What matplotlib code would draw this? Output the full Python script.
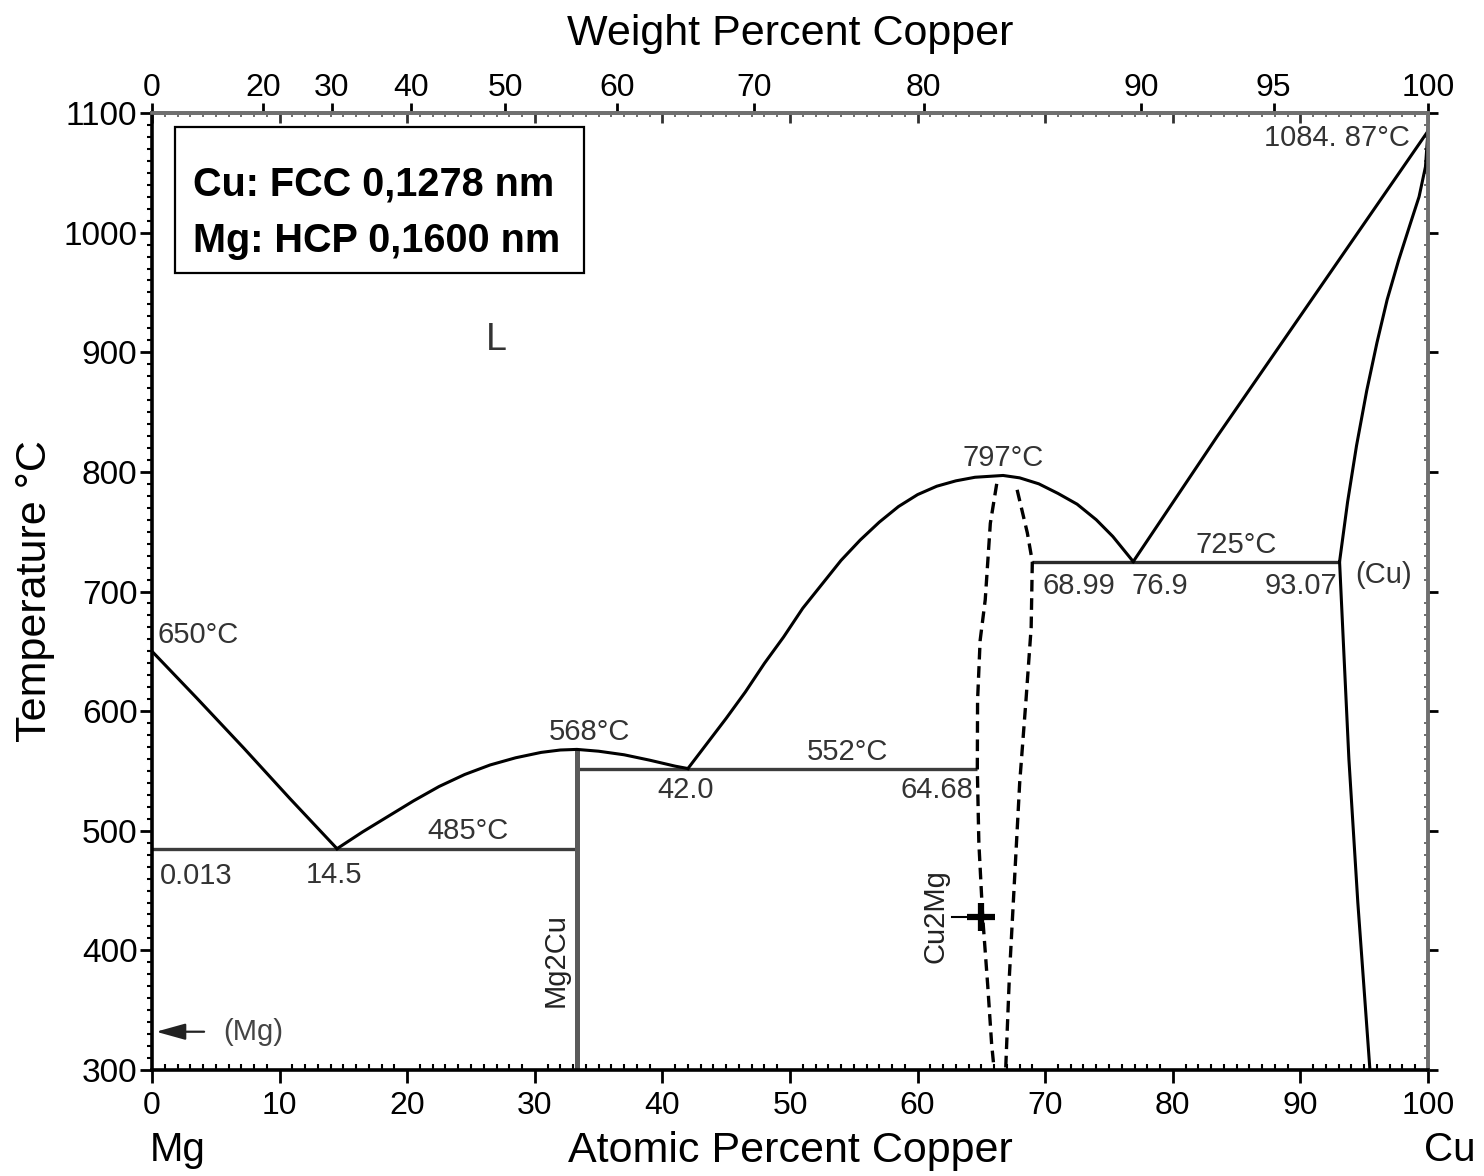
import numpy as np
import matplotlib.pyplot as plt
from matplotlib.patches import Rectangle

plt.rcParams['font.family'] = ['Liberation Sans', 'DejaVu Sans']

# atomic weights used for the weight-percent scale on top
M_CU = 63.546
M_MG = 24.305

# liquidus / solidus / solvus curves (atomic % Cu, temperature C)
liq_mg_x = [0.0, 3.5, 7.2, 10.8, 14.5]
liq_mg_t = [650, 611, 569, 527, 485]

liq_mg2cu_x = [14.5, 16.5, 18.5, 20.5, 22.5, 24.5, 26.5, 28.5, 30.5, 32.0, 33.3,
               35.0, 37.0, 39.0, 41.0, 42.0]
liq_mg2cu_t = [485, 499, 512, 525, 537, 547, 555, 561, 565.5, 567.5, 568,
               566.5, 563.5, 559, 554, 552]

liq_cu2mg_x = [42.0, 43.5, 45.0, 46.5, 48.0, 49.5, 51.0, 52.5, 54.0, 55.5, 57.0, 58.5,
               60.0, 61.5, 63.0, 64.5, 66.7, 68.0, 69.5, 71.0, 72.5, 74.0, 75.3, 76.9]
liq_cu2mg_t = [552, 573, 594, 616, 640, 662, 686, 706, 726, 743, 758, 771,
               781, 788, 792.5, 795.5, 797, 795, 790, 782, 773, 760, 746, 725]

liq_cu_x = [76.9, 83.5, 100.0]
liq_cu_t = [725, 830, 1084.87]

sol_cu_x = [100.0, 99.8, 99.3, 98.6, 97.7, 96.8, 96.0, 95.2, 94.4, 93.7, 93.07]
sol_cu_t = [1084.87, 1055, 1030, 1007, 977, 944, 908, 868, 822, 775, 725]

solvus_cu_x = [93.07, 93.4, 93.8, 94.5, 95.45]
solvus_cu_t = [725, 650, 560, 440, 300]

# Cu2Mg phase field (dashed)
cu2mg_left_x = [66.2, 65.7, 65.3, 64.9, 64.7, 64.68, 64.8, 65.1, 65.5, 65.8, 66.0]
cu2mg_left_t = [790, 757, 693, 659, 609, 552, 490, 428, 370, 322, 300]
cu2mg_right_x = [67.8, 68.6, 68.99, 68.9, 68.5, 68.0, 67.6, 67.2, 66.9]
cu2mg_right_t = [785, 749, 725, 670, 610, 540, 460, 380, 300]

# invariant lines
eut1_x = [0.0, 33.3]
eut1_t = 485
eut2_x = [33.3, 64.68]
eut2_t = 552
eut3_x = [68.99, 93.07]
eut3_t = 725
mg2cu_x = 33.3
mg2cu_t = [300, 568]

# ticks
at_ticks = np.arange(0, 101, 10)
wt_ticks = [0, 20, 30, 40, 50, 60, 70, 80, 90, 95, 100]
t_ticks = np.arange(300, 1101, 100)

# point labels: (text, x, T, ha, va)
labels = [
    ('650°C', 0.4, 652, 'left', 'bottom'),
    ('0.013', 0.6, 462, 'left', 'center'),
    ('14.5', 14.3, 463, 'center', 'center'),
    ('485°C', 24.8, 488, 'center', 'bottom'),
    ('568°C', 34.3, 571, 'center', 'bottom'),
    ('42.0', 41.8, 534, 'center', 'center'),
    ('552°C', 54.5, 554, 'center', 'bottom'),
    ('64.68', 64.4, 534, 'right', 'center'),
    ('797°C', 66.7, 800, 'center', 'bottom'),
    ('725°C', 85.0, 727, 'center', 'bottom'),
    ('68.99', 69.8, 705, 'left', 'center'),
    ('76.9', 79.0, 705, 'center', 'center'),
    ('93.07', 92.9, 705, 'right', 'center'),
    ('(Cu)', 96.5, 714, 'center', 'center'),
    ('1084. 87°C', 98.6, 1079, 'right', 'center'),
]


def at_to_wt(x):
    x = np.asarray(x, dtype=float)
    with np.errstate(divide='ignore', invalid='ignore'):
        return 100.0 * x * M_CU / (x * M_CU + (100.0 - x) * M_MG)


def wt_to_at(w):
    w = np.asarray(w, dtype=float)
    with np.errstate(divide='ignore', invalid='ignore'):
        return 100.0 * (w / M_CU) / (w / M_CU + (100.0 - w) / M_MG)


fig = plt.figure(figsize=(14.84, 11.76), dpi=100)
ax = fig.add_axes([152/1484, 1 - 1070/1176, 1276/1484, 957/1176])
ax.set_xlim(0, 100)
ax.set_ylim(300, 1100)

line_kw = dict(color='black', lw=2.2, solid_joinstyle='round')

# invariant lines and Mg2Cu compound
ax.hlines(eut1_t, eut1_x[0], eut1_x[1], color='#3c3c3c', lw=2.4, zorder=2)
ax.hlines(eut2_t, eut2_x[0], eut2_x[1], color='#3c3c3c', lw=2.4, zorder=2)
ax.hlines(eut3_t, eut3_x[0], eut3_x[1], color='#2a2a2a', lw=2.4, zorder=2)
ax.vlines(mg2cu_x, mg2cu_t[0], mg2cu_t[1], color='#5a5a5a', lw=3.6, zorder=2)

ax.plot(liq_mg_x, liq_mg_t, **line_kw)
ax.plot(liq_mg2cu_x, liq_mg2cu_t, **line_kw)
ax.plot(liq_cu2mg_x, liq_cu2mg_t, **line_kw)
ax.plot(liq_cu_x, liq_cu_t, **line_kw)
ax.plot(sol_cu_x, sol_cu_t, **line_kw)
ax.plot(solvus_cu_x, solvus_cu_t, **line_kw)

ax.plot(cu2mg_left_x, cu2mg_left_t, color='black', lw=2.4, ls=(0, (3.5, 2)))
ax.plot(cu2mg_right_x, cu2mg_right_t, color='black', lw=2.4, ls=(0, (3.5, 2)))

# labels
for txt, x, t, ha, va in labels:
    ax.text(x, t, txt, ha=ha, va=va, fontsize=21, color='#333333')

ax.text(27.0, 910, 'L', ha='center', va='center', fontsize=27, color='#333333')
ax.text(31.6, 392, 'Mg2Cu', rotation=90, ha='center', va='center', fontsize=21, color='#222222')
ax.text(61.4, 429, 'Cu2Mg', rotation=90, ha='center', va='center', fontsize=21, color='#222222')

# (Mg) arrow and Cu2Mg marker
ax.annotate('', xy=(0.1, 332), xytext=(4.3, 332),
            arrowprops=dict(arrowstyle='-|>,head_length=0.9,head_width=0.25', lw=1.6,
                            color='#222222', mutation_scale=20))
ax.text(7.9, 332, '(Mg)', ha='center', va='center', fontsize=21, color='#444444')
ax.plot([62.7, 65.0], [428, 428], color='black', lw=1.5)
ax.plot(65.0, 428, marker='+', ms=20, mew=4.5, color='black')

# structure box
ax.add_patch(Rectangle((0.018, 0.8328), 0.3206, 0.1526, transform=ax.transAxes,
                       fc='white', ec='black', lw=1.6, zorder=5))
ax.text(0.0321, 0.9143, 'Cu: FCC 0,1278 nm', transform=ax.transAxes, ha='left', va='baseline',
        fontsize=28.5, fontweight='bold', zorder=6)
ax.text(0.0321, 0.8548, 'Mg: HCP 0,1600 nm', transform=ax.transAxes, ha='left', va='baseline',
        fontsize=28.5, fontweight='bold', zorder=6)

# spines
for side in ['left', 'bottom']:
    ax.spines[side].set_linewidth(2.6)
    ax.spines[side].set_color('black')
for side in ['top', 'right']:
    ax.spines[side].set_linewidth(2.6)
    ax.spines[side].set_color('#707070')

# bottom / left ticks
ax.set_xticks(at_ticks)
ax.set_xticks(np.arange(0, 101, 1), minor=True)
ax.set_yticks(t_ticks)
ax.set_yticks(np.arange(300, 1101, 10), minor=True)
ax.tick_params(axis='x', which='major', direction='out', length=9, width=2, labelsize=23, pad=6)
ax.tick_params(axis='x', which='minor', direction='in', length=4, width=1.5)
ax.tick_params(axis='y', which='major', direction='out', length=9, width=2, labelsize=24, pad=1.5)
ax.tick_params(axis='y', which='minor', direction='out', length=3.5, width=1.5)

ax.set_ylabel('Temperature °C', fontsize=31, labelpad=6)
ax.set_xlabel('Atomic Percent Copper', fontsize=31, labelpad=7)
ax.text(-0.002, -0.0836, 'Mg', transform=ax.transAxes, ha='left', va='center', fontsize=29)
ax.text(0.997, -0.0836, 'Cu', transform=ax.transAxes, ha='left', va='center', fontsize=29)

# top: atomic percent ticks pointing in
top_at = ax.secondary_xaxis('top')
top_at.set_xticks(at_ticks)
top_at.set_xticks(np.arange(0, 101, 1), minor=True)
top_at.tick_params(axis='x', which='major', direction='in', length=7, width=2, labeltop=False, color='#333333')
top_at.tick_params(axis='x', which='minor', direction='in', length=3, width=1.2, color='#555555')
top_at.spines['top'].set_color('#707070')
top_at.spines['top'].set_linewidth(2.6)

# top: weight percent scale
top_wt = ax.secondary_xaxis('top', functions=(at_to_wt, wt_to_at))
top_wt.set_xticks(wt_ticks)
top_wt.tick_params(axis='x', which='major', direction='out', length=7, width=2, labelsize=23, pad=0)
top_wt.spines['top'].set_color('#707070')
top_wt.spines['top'].set_linewidth(2.6)
top_wt.set_xlabel('Weight Percent Copper', fontsize=31, labelpad=20)

# right side ticks
right_t = ax.secondary_yaxis('right')
right_t.set_yticks(t_ticks)
right_t.set_yticks(np.arange(300, 1101, 10), minor=True)
right_t.tick_params(axis='y', which='major', direction='out', length=7, width=2, labelright=False)
right_t.tick_params(axis='y', which='minor', direction='in', length=3, width=1.2, color='#555555')
right_t.spines['right'].set_color('#707070')
right_t.spines['right'].set_linewidth(2.6)

fig.savefig('out.png', dpi=100)
